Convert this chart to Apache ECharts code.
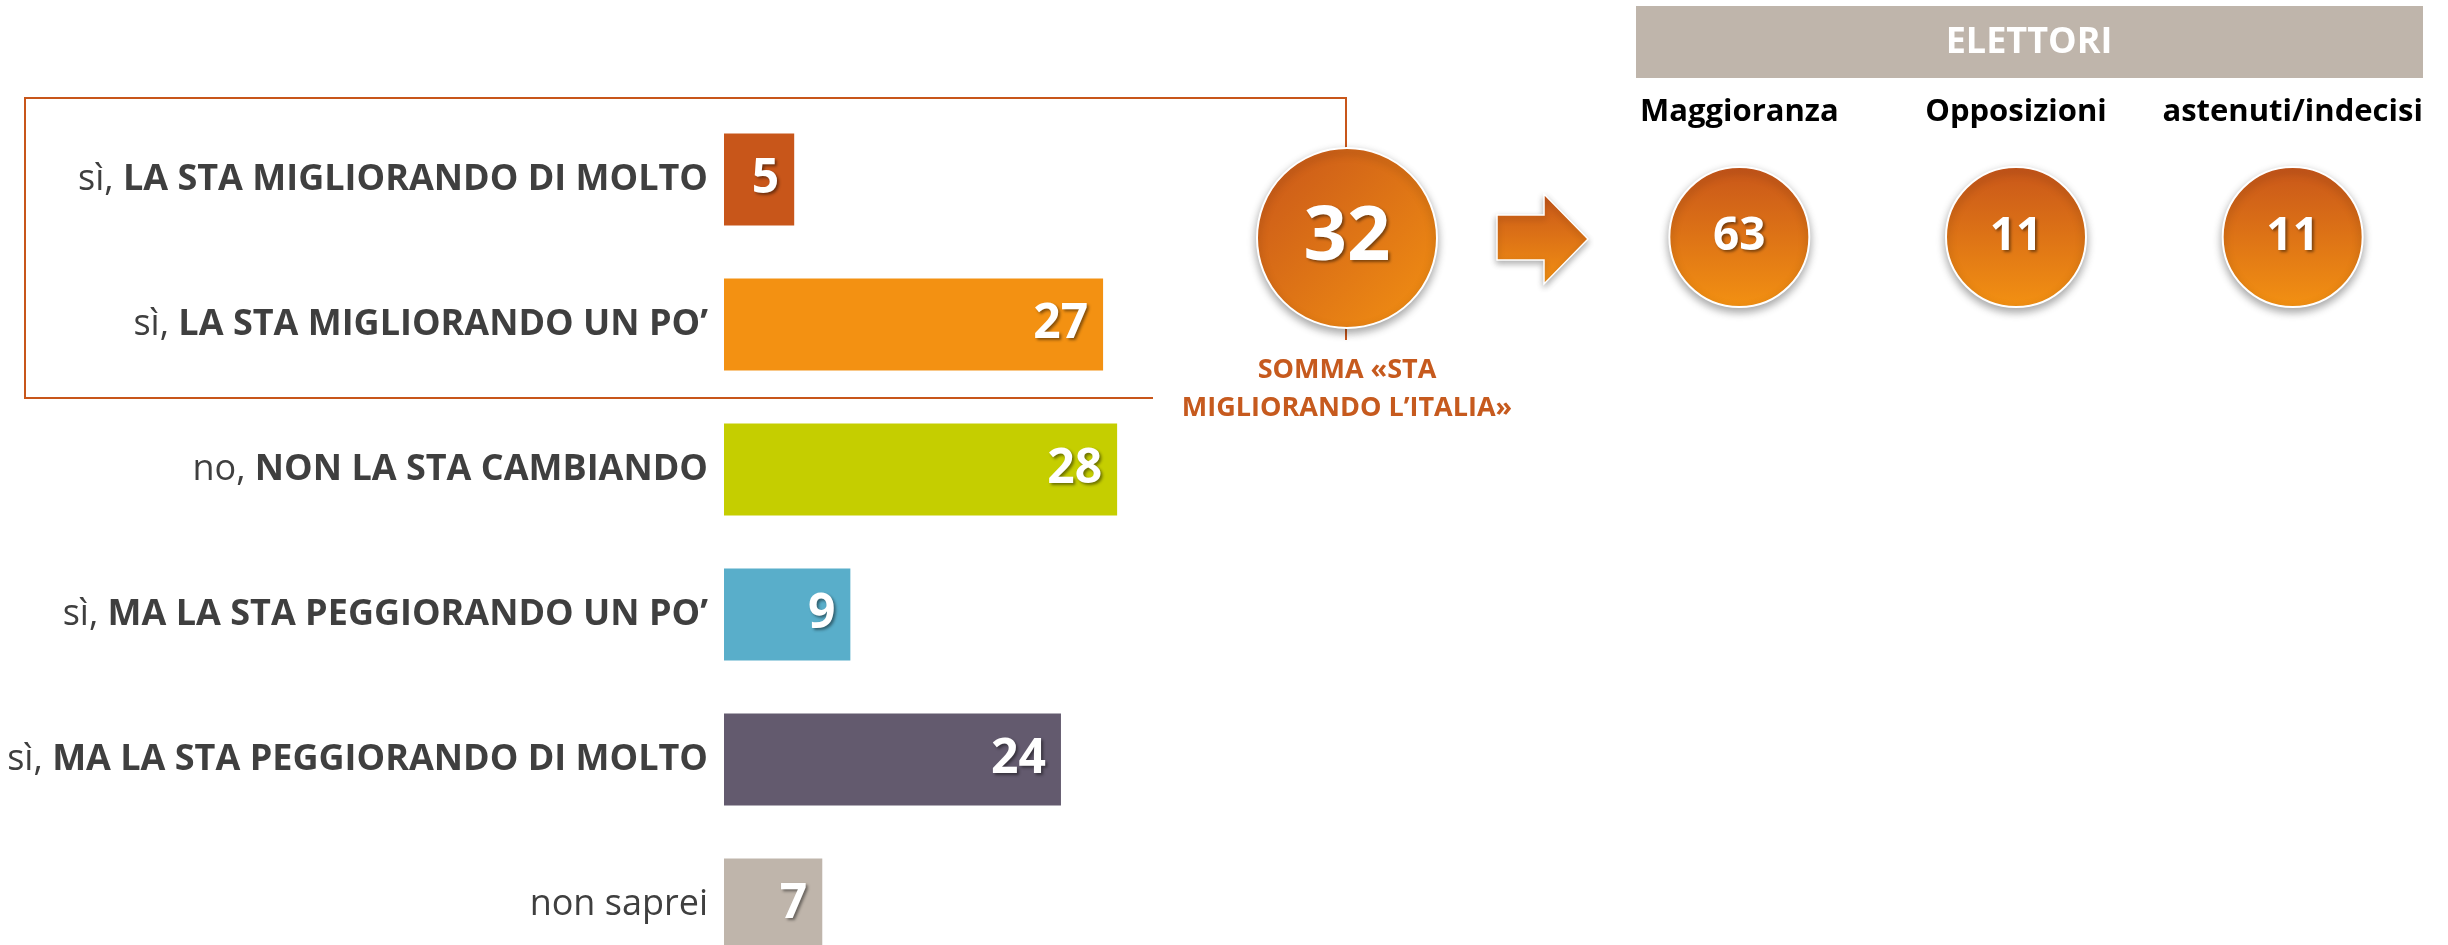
<!DOCTYPE html>
<html>
<head>
<meta charset="utf-8">
<script src="https://cdn.jsdelivr.net/npm/echarts@6/dist/echarts.min.js"></script>
<style>
  html, body { margin: 0; padding: 0; background: #fff; }
  #chart { width: 2448px; height: 945px; }
</style>
</head>
<body>
<div id="chart"></div>
<script>
// dati
const categories = [
  'sì, LA STA MIGLIORANDO DI MOLTO',
  'sì, LA STA MIGLIORANDO UN PO’',
  'no, NON LA STA CAMBIANDO',
  'sì, MA LA STA PEGGIORANDO UN PO’',
  'sì, MA LA STA PEGGIORANDO DI MOLTO',
  'non saprei'
]
const values = [5, 27, 28, 9, 24, 7]
const sommaLabel = ['SOMMA «STA\nMIGLIORANDO L’ITALIA»']
const sommaValue = [32]
const elettoriCats = ['Maggioranza', 'Opposizioni', 'astenuti/indecisi']
const elettoriValues = [63, 11, 11]

const barColors = ['#C8561A', '#F39112', '#C5CE00', '#59AECA', '#635A6E', '#BFB5AB']
const font = 'Open Sans'
const dark = '#C8561A'
const light = '#F39112'

const chart = echarts.init(document.getElementById('chart'))

const whiteNum = size => ({
  color: '#fff',
  fontFamily: font,
  fontWeight: 'bold',
  fontSize: size,
  textShadowColor: 'rgba(0,0,0,0.45)',
  textShadowBlur: 3,
  textShadowOffsetX: 2,
  textShadowOffsetY: 2
})

chart.setOption({
  backgroundColor: '#fff',
  animation: false,
  grid: [
    { left: 724, top: 107, width: 1404, height: 870, outerBoundsMode: 'none' },
    { left: 1601, top: 140, width: 830, height: 194, outerBoundsMode: 'none' },
    { left: 1247, top: 138, width: 200, height: 200, outerBoundsMode: 'none' }
  ],
  xAxis: [
    { type: 'value', gridIndex: 0, min: 0, max: 100, show: false },
    {
      type: 'category', gridIndex: 1, position: 'top', data: elettoriCats,
      axisLine: { show: false }, axisTick: { show: false },
      axisLabel: { interval: 0, margin: 12, color: '#000', fontFamily: font, fontWeight: 'bold', fontSize: 31 }
    },
    {
      type: 'category', gridIndex: 2, position: 'bottom', data: sommaLabel,
      axisLine: { show: false }, axisTick: { show: false },
      axisLabel: { interval: 0, margin: 13, color: '#C65A1E', fontFamily: font, fontWeight: 'bold', fontSize: 27, lineHeight: 38, align: 'center' }
    }
  ],
  yAxis: [
    {
      type: 'category', gridIndex: 0, inverse: true, data: categories,
      axisLine: { show: false }, axisTick: { show: false },
      axisLabel: {
        margin: 16,
        formatter: function (v) {
          const i = v.indexOf(', ')
          if (i < 0) return '{r|' + v + '}'
          return '{r|' + v.slice(0, i + 2) + '}{b|' + v.slice(i + 2) + '}'
        },
        rich: {
          r: { color: '#3F3F3F', fontFamily: font, fontSize: 36 },
          b: { color: '#3F3F3F', fontFamily: font, fontSize: 36, fontWeight: 'bold' }
        }
      }
    },
    { type: 'value', gridIndex: 1, min: -1, max: 1, show: false },
    { type: 'value', gridIndex: 2, min: -1, max: 1, show: false }
  ],
  series: [
    {
      type: 'bar',
      xAxisIndex: 0,
      yAxisIndex: 0,
      barWidth: 92,
      data: values.map((v, i) => ({ value: v, itemStyle: { color: barColors[i] } })),
      label: Object.assign({ show: true, position: 'insideRight', distance: 15 }, whiteNum(48))
    },
    {
      type: 'scatter',
      xAxisIndex: 1,
      yAxisIndex: 1,
      symbolSize: 140,
      data: elettoriCats.map((c, i) => [c, 0, elettoriValues[i]]),
      itemStyle: {
        opacity: 1,
        color: new echarts.graphic.LinearGradient(0, 0, 0, 1, [
          { offset: 0, color: dark }, { offset: 1, color: light }
        ]),
        borderColor: '#fff',
        borderWidth: 2,
        shadowColor: 'rgba(0,0,0,0.35)',
        shadowBlur: 8,
        shadowOffsetY: 4
      },
      label: Object.assign({ show: true, position: 'inside', formatter: p => p.value[2] }, whiteNum(46))
    },
    {
      type: 'scatter',
      xAxisIndex: 2,
      yAxisIndex: 2,
      symbolSize: 180,
      data: sommaLabel.map((c, i) => [c, 0, sommaValue[i]]),
      itemStyle: {
        opacity: 1,
        color: new echarts.graphic.LinearGradient(0, 0, 1, 1, [
          { offset: 0, color: dark }, { offset: 1, color: light }
        ]),
        borderColor: '#fff',
        borderWidth: 2,
        shadowColor: 'rgba(0,0,0,0.35)',
        shadowBlur: 8,
        shadowOffsetY: 4
      },
      label: Object.assign({ show: true, position: 'inside', formatter: p => p.value[2] }, whiteNum(76))
    }
  ],
  graphic: {
    elements: [
      {
        type: 'polyline', z: 0,
        shape: { points: [[1153, 398], [25, 398], [25, 98], [1346, 98], [1346, 340]] },
        style: { stroke: dark, lineWidth: 2, fill: null }
      },
      {
        type: 'polygon', z: 5,
        shape: { points: [[1497, 215], [1544, 215], [1544, 194], [1588, 239], [1544, 284], [1544, 260], [1497, 260]] },
        style: {
          fill: new echarts.graphic.LinearGradient(0, 0, 0, 1, [
            { offset: 0, color: dark }, { offset: 1, color: light }
          ]),
          stroke: '#fff',
          lineWidth: 1.5,
          shadowColor: 'rgba(0,0,0,0.3)',
          shadowBlur: 6,
          shadowOffsetY: 3
        }
      },
      {
        type: 'rect', z: 5,
        shape: { x: 1636, y: 6, width: 787, height: 72 },
        style: { fill: '#BFB5AB' }
      },
      {
        type: 'text', z: 6,
        x: 2029, y: 43,
        style: {
          text: 'ELETTORI', fill: '#fff', font: 'bold 36px "Open Sans"',
          align: 'center', verticalAlign: 'middle'
        }
      }
    ]
  }
})
</script>
</body>
</html>
